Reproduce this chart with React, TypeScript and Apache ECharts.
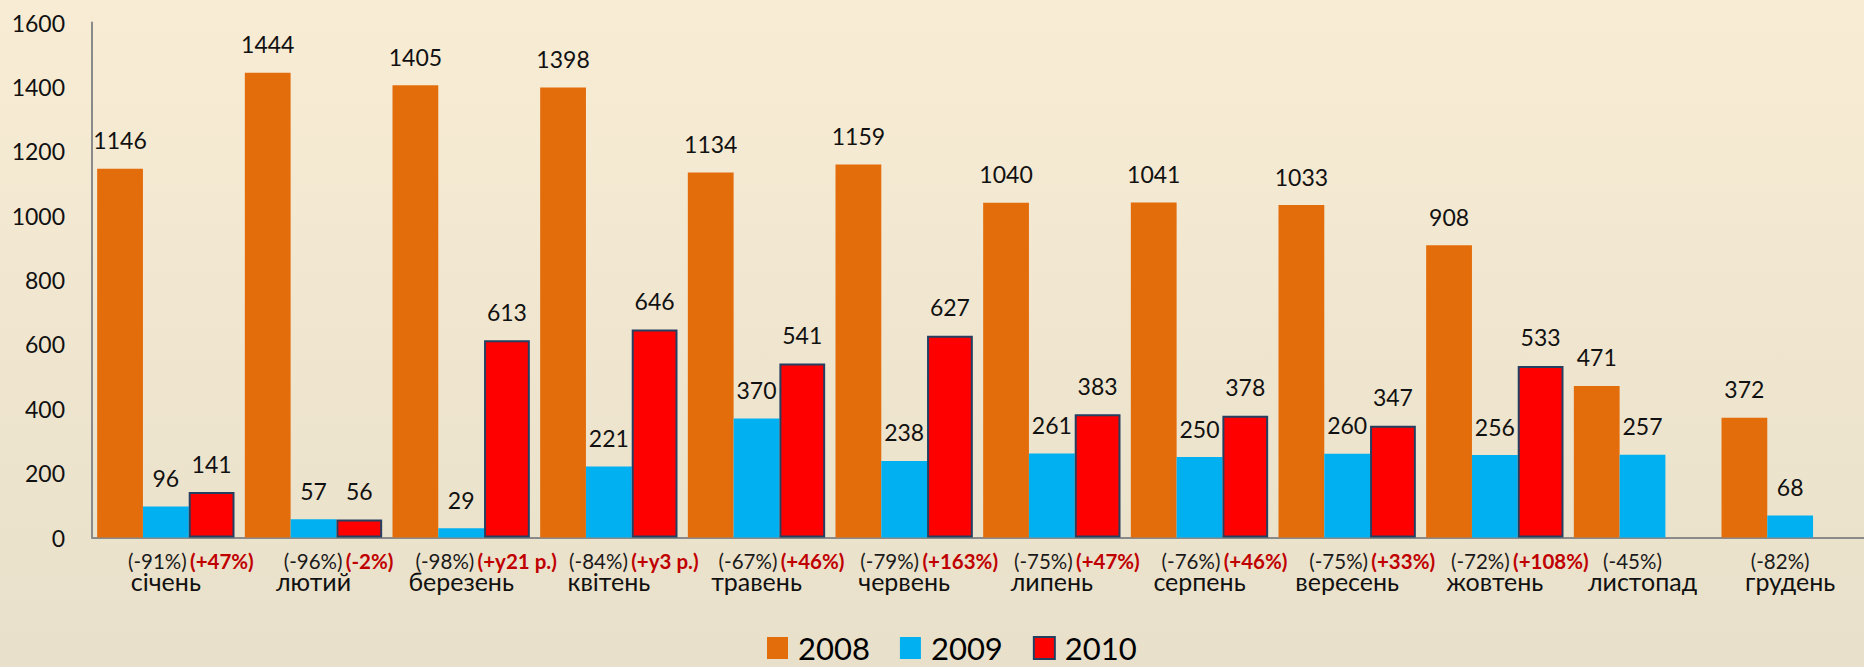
import React, { useEffect, useRef } from "react";
import * as echarts from "echarts";

const months = ["січень", "лютий", "березень", "квітень", "травень", "червень", "липень", "серпень", "вересень", "жовтень", "листопад", "грудень"];
const values2008 = [1146, 1444, 1405, 1398, 1134, 1159, 1040, 1041, 1033, 908, 471, 372];
const values2009 = [96, 57, 29, 221, 370, 238, 261, 250, 260, 256, 257, 68];
const values2010: (number | null)[] = [141, 56, 613, 646, 541, 627, 383, 378, 347, 533, null, null];
const change2009 = ["(-91%)", "(-96%)", "(-98%)", "(-84%)", "(-67%)", "(-79%)", "(-75%)", "(-76%)", "(-75%)", "(-72%)", "(-45%)", "(-82%)"];
const change2010 = ["(+47%)", "(-2%)", "(+у21 р.)", "(+у3 р.)", "(+46%)", "(+163%)", "(+47%)", "(+46%)", "(+33%)", "(+108%)", "", ""];
const yTicks = [0, 200, 400, 600, 800, 1000, 1200, 1400, 1600];
const seriesNames = ["2008", "2009", "2010"];

const FONT = "Lato, 'Noto Sans', sans-serif";

export default function App() {
  const ref = useRef<HTMLDivElement>(null);
  useEffect(() => {
    if (!ref.current) return;
    const chart = echarts.init(ref.current, null, { renderer: "svg" });
    const labelStyle = {
      show: true,
      position: "top" as const,
      distance: 17,
      fontSize: 23,
      fontFamily: FONT,
      color: "#111",
    };
    chart.setOption({
      animation: false,
      backgroundColor: new echarts.graphic.LinearGradient(0, 0, 0, 1, [
        { offset: 0, color: "#F8ECD4" },
        { offset: 1, color: "#E8E0CA" },
      ]),
      grid: { left: 92, right: -9, top: 22.6, bottom: 129.5 },
      legend: {
        data: seriesNames,
        left: 762,
        top: 627,
        icon: "rect",
        itemWidth: 21,
        itemHeight: 22,
        itemGap: 30,
        textStyle: {
          fontSize: 31,
          fontFamily: FONT,
          color: "#000",
          lineHeight: 32,
          padding: [0, 0, 0, 5],
        },
      },
      xAxis: {
        type: "category",
        data: months,
        axisLine: { show: true, lineStyle: { color: "#8a8a8a", width: 2 } },
        axisTick: { show: false },
        axisLabel: {
          interval: 0,
          margin: 13,
          hideOverlap: false,
          formatter: (_v: string, i: number) => {
            const hasRed = change2010[i] !== "";
            const first = hasRed
              ? `{sp| }{a|${change2009[i]}} {b|${change2010[i]}}`
              : `{a|${change2009[i]}}{spr| }`;
            return `${first}\n{m|${months[i]}}`;
          },
          rich: {
            sp: { width: 50, lineHeight: 21, fontSize: 20 },
            spr: { width: 20, lineHeight: 21, fontSize: 20 },
            a: { fontSize: 20.5, color: "#1a1a1a", fontFamily: FONT, lineHeight: 21 },
            b: { fontSize: 20.5, fontWeight: "bold", color: "#C00000", fontFamily: FONT, lineHeight: 21 },
            m: { fontSize: 25, color: "#111", fontFamily: FONT, lineHeight: 19 },
          },
        },
      },
      yAxis: {
        type: "value",
        min: yTicks[0],
        max: yTicks[yTicks.length - 1],
        interval: yTicks[1] - yTicks[0],
        axisLine: { show: true, lineStyle: { color: "#8a8a8a", width: 2 } },
        axisTick: { show: false },
        splitLine: { show: false },
        axisLabel: {
          fontSize: 23,
          fontFamily: FONT,
          color: "#111",
          margin: 27,
          formatter: (v: number) => String(v),
        },
      },
      series: [
        {
          name: seriesNames[0],
          type: "bar",
          data: values2008,
          barGap: "0%",
          barCategoryGap: "7%",
          itemStyle: { color: "#E36C0B" },
          label: labelStyle,
        },
        {
          name: seriesNames[1],
          type: "bar",
          data: values2009,
          barGap: "0%",
          barCategoryGap: "7%",
          itemStyle: { color: "#00B0F0" },
          label: labelStyle,
        },
        {
          name: seriesNames[2],
          type: "bar",
          data: values2010,
          barGap: "0%",
          barCategoryGap: "7%",
          itemStyle: { color: "#FF0000", borderColor: "#243F60", borderWidth: 2 },
          label: labelStyle,
        },
      ],
    });
    return () => chart.dispose();
  }, []);
  return <div ref={ref} style={{ position: "absolute", left: 0, top: 0, width: 1864, height: 667 }} />;
}
